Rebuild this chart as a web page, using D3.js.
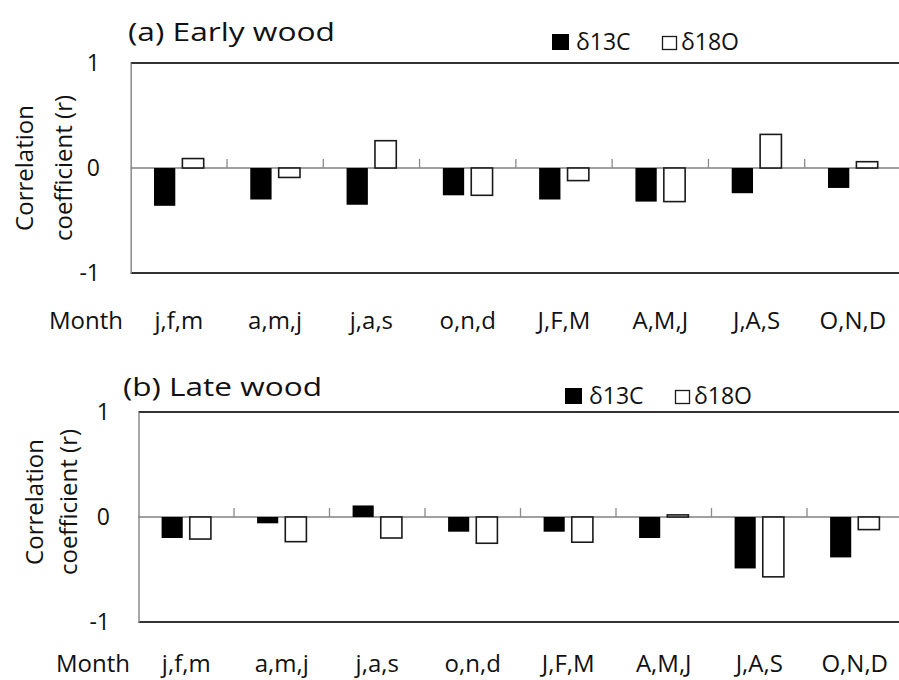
<!DOCTYPE html>
<html>
<head>
<meta charset="utf-8">
<script src="https://cdn.jsdelivr.net/npm/d3@7"></script>
<style>
  body { margin: 0; background: #fff; }
  text { font-family: "Open Sans", sans-serif; fill: #111; }
</style>
</head>
<body>
<script>
// Season labels (previous year lower case, current year upper case)
const categories = ["j,f,m", "a,m,j", "j,a,s", "o,n,d", "J,F,M", "A,M,J", "J,A,S", "O,N,D"];
const series = ["δ13C", "δ18O"];
const yTicks = [-1, 0, 1];

// (a) Early wood correlations
const earlyC13 = [-0.36, -0.30, -0.35, -0.26, -0.30, -0.32, -0.24, -0.19];
const earlyO18 = [0.09, -0.09, 0.26, -0.26, -0.12, -0.32, 0.32, 0.06];

// (b) Late wood correlations
const lateC13 = [-0.20, -0.06, 0.11, -0.14, -0.14, -0.20, -0.49, -0.385];
const lateO18 = [-0.21, -0.235, -0.20, -0.25, -0.24, 0.02, -0.57, -0.12];

const width = 899;
const height = 680;

const svg = d3.select("body").append("svg")
    .attr("width", width)
    .attr("height", height);

function drawPanel(p) {
    const x = d3.scaleBand().domain(categories).range([p.left, p.right]);
    const xs = d3.scaleBand().domain(series).range([0, x.bandwidth()])
        .paddingInner(0.25).paddingOuter(0.82);
    const y = d3.scaleLinear().domain([-1, 1]).range([p.bottom, p.top]);

    const g = svg.append("g");

    // top and bottom frame lines
    [1, -1].forEach(v => {
        g.append("line")
            .attr("x1", p.left).attr("x2", width)
            .attr("y1", y(v)).attr("y2", y(v))
            .attr("stroke", "#333").attr("stroke-width", 2);
    });

    // y axis
    const yAxis = g.append("g")
        .attr("transform", `translate(${p.left},0)`)
        .call(d3.axisLeft(y).tickValues(yTicks).tickSize(0)
            .tickPadding(p.left - p.tickRight).tickFormat(d => String(d)));
    yAxis.select(".domain").attr("stroke", "#8a8a8a").attr("stroke-width", 1.5);
    yAxis.selectAll("text")
        .style("font-family", "'Open Sans', sans-serif")
        .style("font-size", "23px")
        .attr("fill", "#111");

    // zero line with separators between seasons
    g.append("line")
        .attr("x1", p.left).attr("x2", width)
        .attr("y1", y(0)).attr("y2", y(0))
        .attr("stroke", "#808080").attr("stroke-width", 1.3);
    g.selectAll(".sep")
        .data(categories.slice(1))
        .join("line")
        .attr("x1", d => x(d)).attr("x2", d => x(d))
        .attr("y1", y(0)).attr("y2", y(0) - 9)
        .attr("stroke", "#8a8a8a").attr("stroke-width", 1.3);

    // bars
    const rows = [];
    categories.forEach((c, i) => {
        rows.push({ cat: c, s: series[0], v: p.c13[i] });
        rows.push({ cat: c, s: series[1], v: p.o18[i] });
    });
    g.selectAll(".bar")
        .data(rows)
        .join("rect")
        .attr("x", d => x(d.cat) + xs(d.s))
        .attr("width", xs.bandwidth())
        .attr("y", d => y(Math.max(0, d.v)))
        .attr("height", d => Math.abs(y(d.v) - y(0)))
        .attr("fill", d => d.s === series[0] ? "#000" : "#fff")
        .attr("stroke", d => d.s === series[0] ? "none" : "#1a1a1a")
        .attr("stroke-width", 1.6);

    // category labels
    g.selectAll(".cat")
        .data(categories)
        .join("text")
        .attr("x", d => x(d) + x.bandwidth() / 2)
        .attr("y", p.labelY)
        .attr("text-anchor", "middle")
        .style("font-size", "24px")
        .text(d => d);
    g.append("text")
        .attr("x", p.monthRight).attr("y", p.labelY)
        .attr("text-anchor", "end")
        .style("font-size", "24px")
        .text("Month");

    // y title, two lines
    const yt = g.append("g");
    yt.append("text")
        .attr("transform", `translate(${p.yt1},${p.ytY}) rotate(-90)`)
        .attr("text-anchor", "middle")
        .style("font-size", "24px")
        .text("Correlation");
    yt.append("text")
        .attr("transform", `translate(${p.yt2},${p.ytY}) rotate(-90)`)
        .attr("text-anchor", "middle")
        .style("font-size", "24px")
        .text("coefficient (r)");

    // panel title
    g.append("text")
        .attr("x", p.titleX).attr("y", p.titleY)
        .attr("textLength", p.titleW).attr("lengthAdjust", "spacingAndGlyphs")
        .style("font-size", "26px")
        .text(p.title);

    // legend
    const lg = g.append("g").attr("transform", `translate(${p.legX},${p.legY})`);
    lg.append("rect").attr("x", 0).attr("y", 0).attr("width", 17).attr("height", 16).attr("fill", "#000");
    lg.append("text").attr("x", 24).attr("y", 16).style("font-size", "23px").text(series[0]);
    lg.append("rect").attr("x", 110.5).attr("y", 2.5).attr("width", 14).attr("height", 13)
        .attr("fill", "#fff").attr("stroke", "#1a1a1a").attr("stroke-width", 1.3);
    lg.append("text").attr("x", 129).attr("y", 16).style("font-size", "23px").text(series[1]);
}

drawPanel({
    title: "(a) Early wood", titleX: 128, titleY: 41, titleW: 207,
    left: 130.7, right: 901, top: 63, bottom: 273, tickRight: 100,
    labelY: 329, monthRight: 123,
    yt1: 33, yt2: 72, ytY: 168,
    legX: 552, legY: 34,
    c13: earlyC13, o18: earlyO18
});

drawPanel({
    title: "(b) Late wood", titleX: 123, titleY: 396, titleW: 199,
    left: 138.5, right: 902.5, top: 412, bottom: 622, tickRight: 110,
    labelY: 672, monthRight: 130,
    yt1: 43, yt2: 77, ytY: 502,
    legX: 565, legY: 388,
    c13: lateC13, o18: lateO18
});
</script>
</body>
</html>
